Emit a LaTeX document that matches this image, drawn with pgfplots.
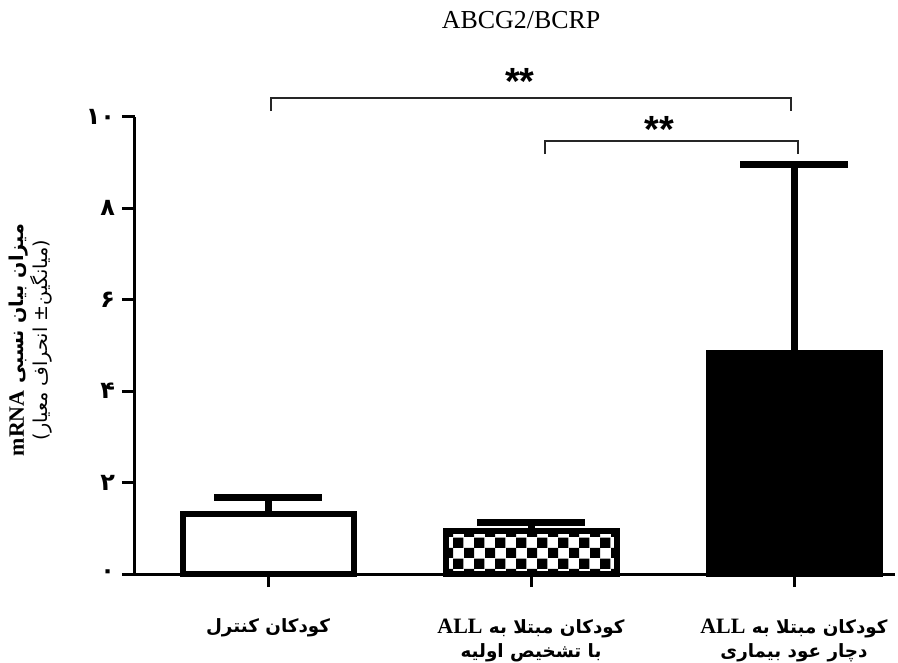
\documentclass[border=0pt]{standalone}
\usepackage{fontspec}
\setmainfont{Liberation Serif}
\usepackage{pgfplots}
\pgfplotsset{compat=1.18}
\usetikzlibrary{patterns}
\TeXXeTstate=1
\newfontfamily\arabicfont[Script=Arabic]{DejaVu Sans}
\newfontfamily\arabicbf[Script=Arabic]{DejaVu Sans Bold}
\newfontfamily\digitfont{DejaVu Sans Bold}
\newfontfamily\starfont{Liberation Sans Bold}
\newcommand{\lat}[1]{\beginL{\rmfamily\bfseries\fontsize{11}{12}\selectfont #1}\endL}

\pgfdeclarepatternformonly{bigcheck}{\pgfqpoint{0pt}{0pt}}{\pgfqpoint{10.6pt}{10.6pt}}{\pgfqpoint{10.6pt}{10.6pt}}{%
 \pgfpathrectangle{\pgfpointorigin}{\pgfqpoint{5.3pt}{5.3pt}}%
 \pgfpathrectangle{\pgfqpoint{5.3pt}{5.3pt}}{\pgfqpoint{5.3pt}{5.3pt}}%
 \pgfusepath{fill}}

\begin{document}
\begin{tikzpicture}
\useasboundingbox (-67.5bp,-44.5bp) rectangle (381.5bp,287bp);
\begin{axis}[
  at={(0,0)}, anchor=south west,
  scale only axis, width=380bp, height=228.5bp,
  xmin=-0.506, xmax=2.384, ymin=0, ymax=10,
  axis x line=bottom, axis y line=left,
  axis line style={-, line width=1.5bp, black},
  tick align=outside, major tick length=6.5bp,
  tick style={line width=1.5bp, black},
  xtick={0,1,2},
  xticklabels={{\beginR کودکان کنترل\endR},{\beginR کودکان مبتلا به \lat{ALL}\endR\\\beginR با تشخیص اولیه\endR},{\beginR کودکان مبتلا به \lat{ALL}\endR\\\beginR دچار عود بیماری\endR}},
  xticklabel style={font=\arabicbf\fontsize{9.2}{12}\selectfont, align=center, anchor=north, yshift=-12.5bp},
  ytick={0,2,4,6,8,10},
  yticklabels={۰,۲,۴,۶,۸,۱۰},
  yticklabel style={font=\digitfont\fontsize{12}{12}\selectfont},
  ylabel={{\arabicbf\fontsize{9.6}{12}\selectfont\beginR میزان بیان نسبی \lat{mRNA}\endR}\\{\arabicfont\fontsize{9.6}{12}\selectfont\beginR(میانگین± انحراف معیار)\endR}},
  ylabel style={at={(axis description cs:-0.137,0.512)}, anchor=center, rotate=0, align=center},
  ybar, bar width=85.5bp, bar shift=0pt,
  clip=false,
]
\addplot[draw=black, fill=white, line width=3bp,
  error bars/.cd, y dir=plus, y explicit,
  error bar style={line width=3.5bp, black},
  error mark options={rotate=90, line width=3.5bp, mark size=27bp, black}]
  coordinates {(0,1.31) +- (0,0.37)};
\addplot[draw=black, fill=white, line width=3bp, postaction={pattern=bigcheck},
  error bars/.cd, y dir=plus, y explicit,
  error bar style={line width=3.5bp, black},
  error mark options={rotate=90, line width=3.5bp, mark size=27bp, black}]
  coordinates {(1,0.94) +- (0,0.18)};
\addplot[draw=black, fill=black, line width=3bp,
  error bars/.cd, y dir=plus, y explicit,
  error bar style={line width=3.5bp, black},
  error mark options={rotate=90, line width=3.5bp, mark size=27bp, black}]
  coordinates {(2,4.84) +- (0,4.13)};
\draw[line width=1bp, black!85] (axis cs:0.01,10.13) |- (axis cs:1.99,10.42) -- (axis cs:1.99,10.13);
\draw[line width=1bp, black!85] (axis cs:1.053,9.19) |- (axis cs:2.015,9.47) -- (axis cs:2.015,9.19);
\node[font=\starfont\fontsize{19}{19}\selectfont] at (axis cs:0.958,10.77) {**};
\node[font=\starfont\fontsize{19}{19}\selectfont] at (axis cs:1.487,9.72) {**};
\node[font=\fontsize{13}{15}\selectfont] at (axis description cs:0.508,1.212) {ABCG2/BCRP};
\end{axis}
\end{tikzpicture}
\end{document}
